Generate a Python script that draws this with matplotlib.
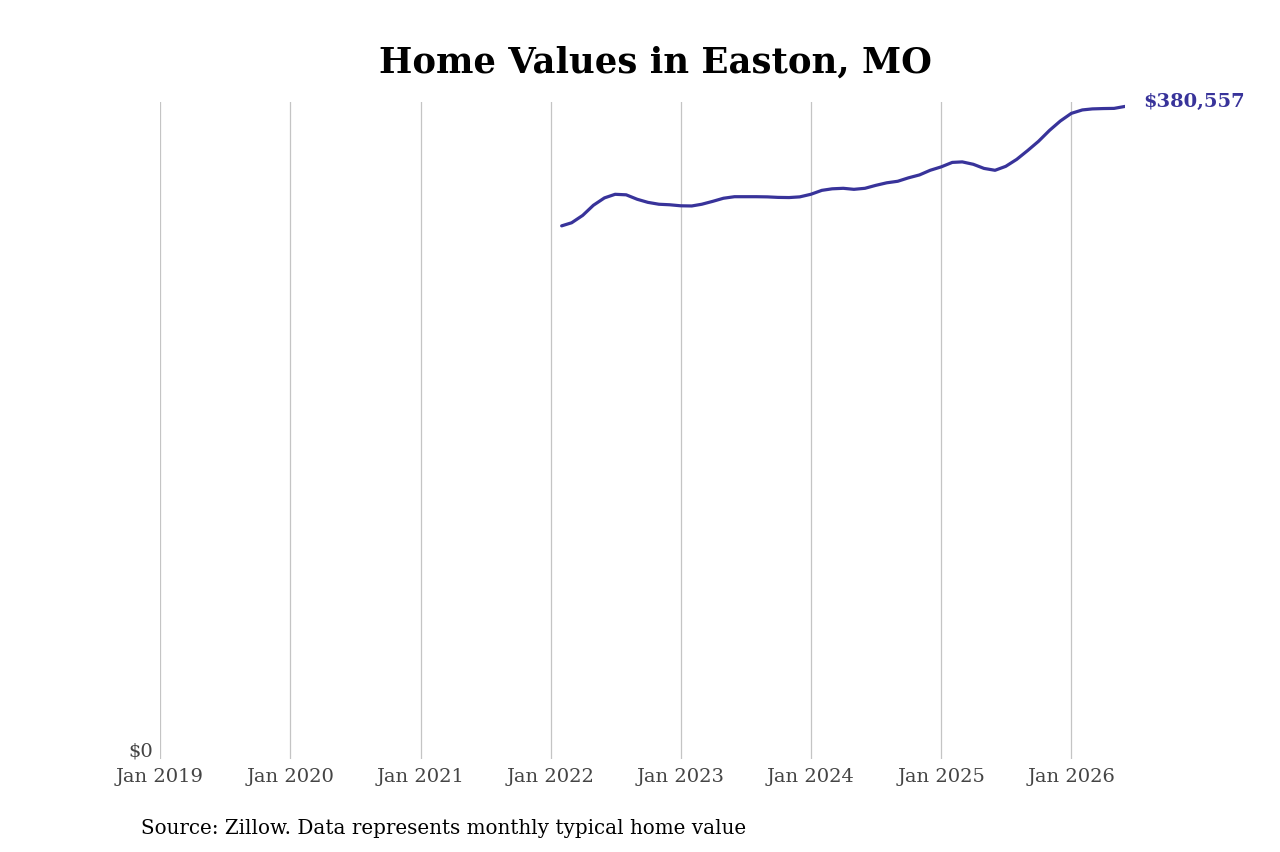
import numpy as np
import pandas as pd
import matplotlib
matplotlib.use("Agg")
import matplotlib.pyplot as plt
import matplotlib.dates as mdates
from matplotlib.ticker import FuncFormatter

plt.rcParams["font.family"] = ["DejaVu Serif"]

# monthly typical home value, Feb 2022 .. Jun 2026
months = pd.date_range("2022-02-01", "2026-06-01", freq="MS")
values = [
    310900, 312700, 317000, 322900, 327200, 329300, 329000, 326400, 324600, 323500, 323200,  # 2022
    322600, 322500, 323500, 325200, 327000, 327900, 327900, 327900, 327800, 327500, 327400, 327800,  # 2023
    329300, 331600, 332500, 332800, 332200, 332800, 334500, 336000, 336900, 338900, 340600, 343300,  # 2024
    345300, 347900, 348200, 346800, 344400, 343300, 345600, 349700, 354900, 360200, 366600, 372000,  # 2025
    376500, 378500, 379100, 379300, 379400, 380557,  # 2026
]
tick_years = list(range(2019, 2027))
line_color = "#38339a"

fig = plt.figure(figsize=(12.8, 8.53), dpi=100)
ax = fig.add_axes([0.125, 0.109, 0.754, 0.770])

ax.plot(months, values, color=line_color, lw=2.3, solid_capstyle="round")

ax.set_xlim(pd.Timestamp("2019-01-01"), pd.Timestamp("2026-06-01"))
ax.set_ylim(0, 383000)

ax.set_xticks([pd.Timestamp(f"{y}-01-01") for y in tick_years])
ax.xaxis.set_major_formatter(mdates.DateFormatter("Jan %Y"))
ax.set_yticks([0])
ax.yaxis.set_major_formatter(FuncFormatter(lambda v, p: f"${v:,.0f}"))
ax.tick_params(axis="both", length=0, labelsize=14, labelcolor="#444444")
ax.tick_params(axis="x", pad=6)
ax.tick_params(axis="y", pad=5)
for lab in ax.get_yticklabels():
    lab.set_va("bottom")

ax.grid(axis="x", color="#c4c4c4", lw=0.9)
ax.grid(axis="y", visible=False)
for s in ax.spines.values():
    s.set_visible(False)

ax.annotate(f"${values[-1]:,}", (months[-1], values[-1]), xytext=(13, 4),
            textcoords="offset points", color=line_color, fontsize=14,
            fontweight="bold", va="center", ha="left", annotation_clip=False)

fig.text(0.512, 0.927, "Home Values in Easton, MO", ha="center", va="center",
         fontsize=25.5, fontweight="bold")
fig.text(0.110, 0.029, "Source: Zillow. Data represents monthly typical home value",
         fontsize=14.3, va="center", ha="left")

fig.savefig("out.png", dpi=100)
